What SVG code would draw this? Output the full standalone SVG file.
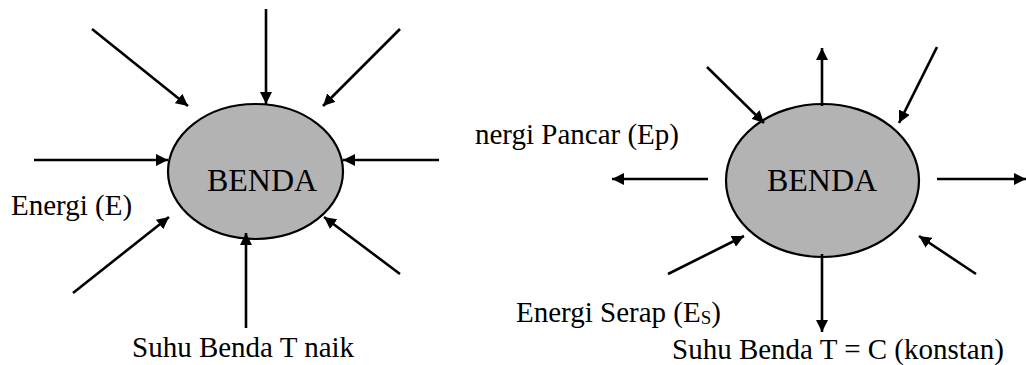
<svg xmlns="http://www.w3.org/2000/svg" width="1026" height="365" viewBox="0 0 1026 365">
  <style>
    .body { fill: #b3b3b3; stroke: #000; stroke-width: 2.2; }
    .lbl { font-family: "Liberation Serif", "Times New Roman", serif; font-size: 29px; fill: #000; }
    .title { font-family: "Liberation Serif", "Times New Roman", serif; font-size: 32px; fill: #000; }
    .arr { stroke: #000; stroke-width: 2.6; fill: none; marker-end: url(#ah); }
  </style>
  <defs>
    <marker id="ah" markerUnits="userSpaceOnUse" markerWidth="13" markerHeight="12" refX="12" refY="6" orient="auto">
      <path d="M0,0 L12,6 L0,12 Z" fill="#000"/>
    </marker>
  </defs>
  <rect width="1026" height="365" fill="#fff"/>

  <g id="benda-left">
    <ellipse class="body" cx="255.5" cy="171.5" rx="87.5" ry="67.5"/>
    <text class="title" x="262" y="191" text-anchor="middle">BENDA</text>
  </g>

  <g id="benda-right">
    <ellipse class="body" cx="822.5" cy="180.5" rx="96.5" ry="76.5"/>
    <text class="title" x="822" y="191" text-anchor="middle">BENDA</text>
  </g>

  <g id="connectors">
    <!-- left diagram: energy flowing in -->
    <line class="arr" x1="92" y1="29" x2="188" y2="106"/>
    <line class="arr" x1="266" y1="9" x2="266" y2="104"/>
    <line class="arr" x1="400" y1="29" x2="323" y2="106"/>
    <line class="arr" x1="34" y1="160" x2="168" y2="160"/>
    <line class="arr" x1="439" y1="160" x2="343" y2="160"/>
    <line class="arr" x1="73" y1="293" x2="169" y2="217"/>
    <line class="arr" x1="400" y1="274" x2="324" y2="217"/>
    <line class="arr" x1="246" y1="328" x2="246" y2="233"/>

    <!-- right diagram: absorbed in, emitted out -->
    <line class="arr" x1="707" y1="67" x2="764" y2="123"/>
    <line class="arr" x1="937" y1="47" x2="899" y2="123"/>
    <line class="arr" x1="668" y1="274" x2="744" y2="236"/>
    <line class="arr" x1="976" y1="274" x2="919" y2="236"/>
    <line class="arr" x1="822" y1="106" x2="822" y2="48"/>
    <line class="arr" x1="708" y1="179" x2="612" y2="179"/>
    <line class="arr" x1="937" y1="179" x2="1026" y2="179"/>
    <line class="arr" x1="822" y1="254" x2="822" y2="332"/>
  </g>

  <g id="labels">
    <text class="lbl" x="11" y="215">Energi (E)</text>
    <text class="lbl" x="132" y="357" font-size="30">Suhu Benda T naik</text>
    <text class="lbl" x="475" y="144">nergi Pancar (Ep)</text>
    <text class="lbl" x="516" y="322">Energi Serap (E<tspan font-size="19" dy="2">S</tspan><tspan dy="-2">)</tspan></text>
    <text class="lbl" x="672" y="359">Suhu Benda T = C (konstan)</text>
  </g>
</svg>
